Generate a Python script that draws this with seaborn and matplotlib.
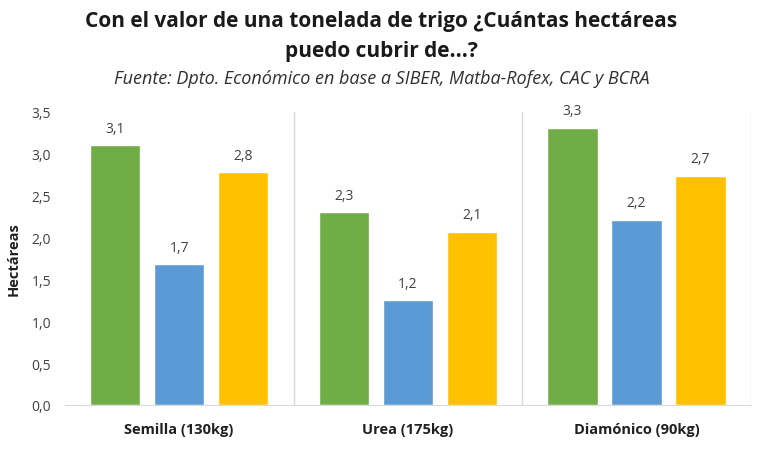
import pandas as pd
import matplotlib
matplotlib.use("Agg")
from matplotlib import pyplot as plt
import seaborn as sns

# data ########################################################################
grupos = ["Semilla (130kg)", "Urea (175kg)", "Diamónico (90kg)"]
series = ["Serie 1", "Serie 2", "Serie 3"]
valores = {
    "Serie 1": [3.10, 2.30, 3.31],
    "Serie 2": [1.68, 1.25, 2.21],
    "Serie 3": [2.78, 2.07, 2.74],
}
colores = ["#70AD47", "#5B9BD5", "#FFC000"]
yticks = [0.0, 0.5, 1.0, 1.5, 2.0, 2.5, 3.0, 3.5]

rows = []
for s in series:
    for g, v in zip(grupos, valores[s]):
        rows.append({"grupo": g, "serie": s, "valor": v})
df = pd.DataFrame(rows)

sns.set_style("white")
plt.rcParams["font.family"] = ["Open Sans", "DejaVu Sans"]

fig = plt.figure(figsize=(7.63, 4.52), dpi=100)
ax = fig.add_axes([0.085, 0.102, 0.899, 0.648])

sns.barplot(data=df, x="grupo", y="valor", hue="serie", order=grupos,
            hue_order=series, palette=colores, width=0.84, gap=0.21,
            legend=False, ax=ax, saturation=1)

for cont in ax.containers:
    ax.bar_label(cont, labels=[f"{b.get_height():.1f}".replace(".", ",") for b in cont],
                 padding=7, fontsize=10, color="#404040")

ax.set_ylim(0, 3.5)
ax.set_xlim(-0.5, 2.5)
ax.set_yticks(yticks)
ax.set_yticklabels([f"{t:.1f}".replace(".", ",") for t in yticks], fontsize=10, color="#404040")
ax.set_xticks(range(len(grupos)))
ax.set_xticklabels(grupos, fontsize=10.5, fontweight="bold", color="#202020")
ax.tick_params(axis="x", length=0, pad=12)
ax.tick_params(axis="y", length=0, pad=10)
ax.set_xlabel("")
ax.set_ylabel("Hectáreas", fontsize=10.5, fontweight="bold", color="#202020", labelpad=8)

for sp in ["top", "left", "right"]:
    ax.spines[sp].set_visible(False)
ax.spines["bottom"].set_color("#D9D9D9")
for xv in [0.5, 1.5, 2.5]:
    ax.axvline(xv, color="#D9D9D9", lw=1, zorder=0)

fig.text(0.5, 0.952, "Con el valor de una tonelada de trigo ¿Cuántas hectáreas",
         ha="center", va="center", fontsize=15, fontweight="bold", color="#1a1a1a")
fig.text(0.5, 0.885, "puedo cubrir de...?",
         ha="center", va="center", fontsize=15, fontweight="bold", color="#1a1a1a")
fig.text(0.5, 0.826, "Fuente: Dpto. Económico en base a SIBER, Matba-Rofex, CAC y BCRA",
         ha="center", va="center", fontsize=13, style="italic", color="#303030")

fig.savefig("out.png", dpi=100)
